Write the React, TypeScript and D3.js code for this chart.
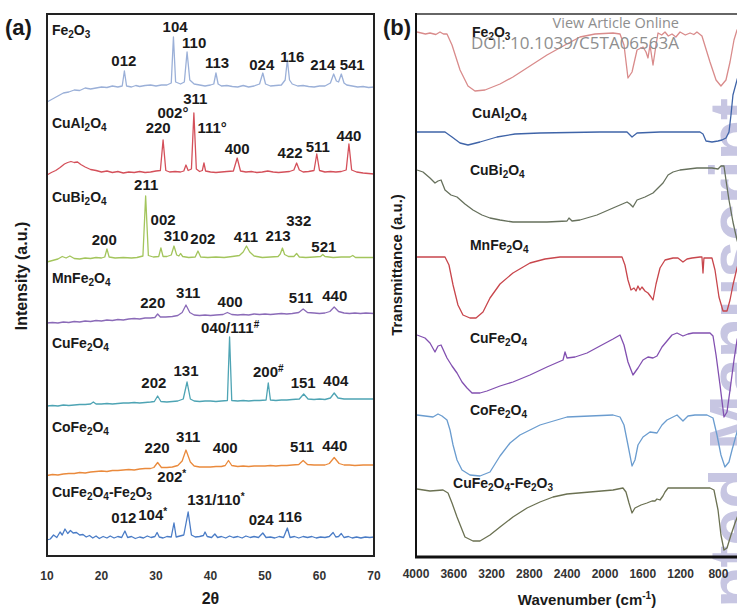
import React from 'react';
import * as d3 from 'd3';

const W = 737;
const H = 608;
const FONT = "'Liberation Sans', Arial, Helvetica, sans-serif";

// ---------- Panel (a): XRD ----------
const xrdTicks = [10, 20, 30, 40, 50, 60, 70];
const xrdNames = ['Fe2O3', 'CuAl2O4', 'CuBi2O4', 'MnFe2O4', 'CuFe2O4', 'CoFe2O4', 'CuFe2O4-Fe2O3'];
const xrdColors = ['#9bb0d8', '#d4505a', '#a3c55c', '#8b6bb8', '#4ea4b4', '#ea8a3c', '#4a7cc6'];

const xrdFe2O3: [number, number][] = [
  [10, 91.0], [11, 91.6], [12, 92.2], [13, 92.8], [14, 93.0], [15, 93.4], [16, 93.3], [17, 93.8], [18, 93.6], [19, 93.8],
  [20, 94.0], [21, 93.9], [22, 94.2], [23, 94.0], [23.8, 94.2], [24.2, 97.2], [24.6, 94.2], [25.5, 94.0], [26.3, 94.3], [27, 94.1],
  [28, 94.3], [29, 94.4], [30, 94.2], [31, 94.4], [32, 94.4], [32.8, 94.8], [33.2, 104.0], [33.6, 95.0], [34.5, 94.6], [35.2, 95.0],
  [35.7, 101.0], [36.2, 95.4], [37, 94.6], [38, 94.4], [39, 94.2], [40, 94.4], [40.6, 94.6], [41.0, 96.8], [41.4, 94.6], [42, 94.2],
  [43, 94.3], [44, 94.1], [45, 94.0], [46, 94.3], [47, 94.0], [48, 94.2], [49, 94.6], [49.6, 96.8], [50.1, 94.6], [51, 94.2],
  [52, 94.3], [53, 94.4], [53.7, 95.4], [54.1, 99.4], [54.5, 95.4], [55, 94.6], [56, 94.2], [57, 94.3], [58, 94.1], [59, 94.0],
  [60, 94.2], [61, 94.2], [62, 94.8], [62.6, 96.6], [63.1, 95.2], [63.5, 95.0], [64.0, 96.6], [64.5, 94.8], [65, 94.4], [66, 94.2],
  [67, 94.0], [68, 94.1], [69, 93.9], [70, 94.0],
];
const xrdCuAl2O4: [number, number][] = [
  [10, 76.4], [10.8, 76.9], [11.6, 77.3], [12.4, 77.9], [13.2, 78.6], [13.8, 78.9], [14.4, 79.1], [15, 78.9], [15.6, 79.0], [16.2, 78.5],
  [17, 78.0], [18, 77.5], [19, 77.3], [20, 77.0], [21, 77.2], [22, 76.9], [23, 77.1], [24, 76.8], [25, 77.0], [26, 76.9],
  [27, 77.1], [28, 76.9], [29, 77.0], [30, 77.2], [30.8, 77.3], [31.3, 83.4], [31.8, 77.3], [32.5, 77.0], [33.5, 77.1], [34.5, 77.0],
  [35.1, 77.2], [35.5, 78.4], [35.9, 77.3], [36.5, 77.6], [36.95, 88.8], [37.4, 77.6], [38, 77.1], [38.5, 77.3], [38.8, 78.8], [39.1, 77.2],
  [40, 77.0], [41, 76.9], [42, 77.0], [43, 77.1], [44.2, 77.2], [44.9, 79.8], [45.5, 77.2], [46.5, 77.0], [47.5, 77.1], [48.5, 76.9],
  [49.5, 77.0], [50.5, 77.2], [51.5, 77.0], [52.5, 76.9], [53.5, 77.0], [54.5, 77.1], [55.3, 77.4], [55.8, 78.8], [56.3, 77.4], [57, 77.0],
  [58, 77.1], [59, 77.3], [59.5, 80.6], [60, 77.3], [61, 77.0], [62, 77.1], [63, 77.0], [64, 77.1], [64.9, 77.4], [65.4, 82.6],
  [65.9, 77.4], [66.8, 77.0], [68, 76.8], [69, 76.7], [70, 76.6],
];
const xrdCuBi2O4: [number, number][] = [
  [10, 59.0], [11, 59.3], [12, 59.6], [12.8, 60.1], [13.5, 59.8], [14.2, 60.2], [15, 59.7], [16, 59.6], [17, 59.8], [18, 59.7],
  [19, 59.9], [20, 59.8], [20.6, 60.0], [21.0, 61.6], [21.4, 60.0], [22.5, 59.8], [24, 59.9], [25.5, 59.8], [26.5, 59.9], [27.6, 60.2],
  [28.1, 72.2], [28.6, 60.3], [29.5, 60.0], [30.5, 60.1], [30.9, 61.8], [31.3, 60.1], [32, 60.1], [32.8, 60.4], [33.3, 62.2], [33.8, 60.4],
  [34.2, 60.2], [34.5, 60.7], [34.9, 60.1], [36, 59.9], [37.2, 60.0], [37.7, 61.2], [38.2, 60.0], [39.5, 59.9], [41, 60.0], [42.5, 59.9],
  [44, 60.1], [45.3, 60.3], [46, 61.0], [46.6, 62.2], [47.2, 61.0], [48, 60.2], [49.5, 59.9], [51, 60.0], [52.4, 60.1], [52.8, 60.6],
  [53.2, 61.8], [53.6, 60.5], [54.3, 60.1], [55.3, 60.1], [55.8, 60.7], [56.3, 60.0], [57.5, 59.9], [59, 60.0], [60.2, 60.1], [60.6, 60.5],
  [61, 60.1], [62.5, 59.9], [64, 60.0], [65.6, 60.0], [66.1, 60.3], [66.6, 59.9], [68, 59.9], [70, 59.9],
];
const xrdMnFe2O4: [number, number][] = [
  [10, 46.8], [11, 46.9], [12, 46.8], [13, 47.0], [14, 46.9], [15, 47.1], [16, 47.0], [17, 47.2], [18, 47.1], [19, 47.3],
  [20, 47.2], [21, 47.4], [22, 47.3], [23, 47.5], [24, 47.4], [25, 47.6], [26, 47.7], [27, 47.6], [28, 47.8], [29, 47.8],
  [29.8, 47.9], [30.3, 48.6], [30.8, 48.0], [31.8, 48.0], [33, 48.1], [34, 48.3], [34.8, 48.9], [35.5, 50.4], [36.2, 48.9], [37, 48.4],
  [38, 48.3], [39, 48.4], [40, 48.3], [41, 48.4], [42.3, 48.5], [43.1, 48.9], [43.9, 48.5], [45, 48.4], [46, 48.5], [47, 48.4],
  [48, 48.6], [49, 48.5], [50, 48.6], [51, 48.5], [52, 48.6], [53, 48.7], [54, 48.6], [55, 48.7], [56.2, 48.9], [57, 49.6],
  [57.8, 48.9], [59, 48.8], [60, 48.7], [61, 48.8], [61.9, 49.1], [62.7, 50.0], [63.5, 49.1], [64.5, 48.8], [65.5, 48.7], [66.5, 48.8],
  [67.5, 48.7], [68.5, 48.8], [70, 48.7],
];
const xrdCuFe2O4: [number, number][] = [
  [10, 30.2], [11, 30.3], [12, 30.2], [13, 30.4], [14, 30.3], [15, 30.4], [16, 30.5], [17, 30.5], [18, 30.6], [18.5, 31.0],
  [19, 30.6], [20, 30.6], [21, 30.7], [22, 30.6], [23, 30.7], [24, 30.8], [25, 30.8], [26, 30.9], [27, 30.8], [28, 30.9],
  [29, 31.0], [29.7, 31.1], [30.3, 32.2], [30.9, 31.1], [32, 31.0], [33, 31.1], [34, 31.2], [35, 31.6], [35.7, 35.0], [36.3, 31.6],
  [37, 31.2], [38, 31.1], [39, 31.2], [40, 31.2], [41, 31.1], [42, 31.2], [43.1, 31.3], [43.5, 44.0], [43.9, 31.3], [45, 31.2],
  [46, 31.3], [47, 31.2], [48, 31.3], [49, 31.3], [50.2, 31.4], [50.6, 34.8], [51.0, 31.4], [52, 31.3], [53, 31.4], [54, 31.4],
  [55, 31.5], [56.3, 31.6], [57.1, 32.6], [57.9, 31.6], [59, 31.5], [60, 31.6], [61, 31.5], [62, 31.8], [62.7, 32.8], [63.4, 31.8],
  [64.5, 31.6], [65.5, 31.6], [67, 31.6], [68.5, 31.6], [70, 31.6],
];
const xrdCoFe2O4: [number, number][] = [
  [10, 16.3], [11, 16.5], [12, 16.4], [13, 16.6], [14, 16.7], [15, 16.7], [16, 16.9], [17, 16.8], [18, 17.0], [19, 17.1],
  [20, 17.2], [21, 17.1], [22, 17.3], [23, 17.3], [24, 17.4], [25, 17.5], [26, 17.4], [27, 17.6], [28, 17.7], [29, 17.7],
  [29.6, 17.9], [30.3, 18.9], [31, 17.9], [32, 17.9], [33, 18.0], [34, 18.3], [34.8, 19.2], [35.5, 21.4], [36.3, 19.0], [37, 18.2],
  [38, 18.0], [39, 18.0], [40, 18.0], [41, 18.1], [42, 18.1], [42.7, 18.3], [43.3, 19.3], [43.9, 18.3], [45, 18.1], [46, 18.2],
  [47, 18.1], [48, 18.2], [49, 18.2], [50, 18.2], [51, 18.3], [52, 18.2], [53, 18.3], [54, 18.3], [55, 18.4], [56.2, 18.5],
  [57, 19.3], [57.8, 18.5], [59, 18.4], [60, 18.4], [61, 18.4], [61.8, 18.7], [62.7, 19.9], [63.6, 18.7], [64.5, 18.4], [65.5, 18.4],
  [66.5, 18.3], [68, 18.4], [70, 18.4],
];
const xrdComposite: [number, number][] = [
  [10, 3.4], [10.6, 3.6], [11.2, 4.4], [11.8, 3.9], [12.4, 5.0], [12.8, 4.4], [13.3, 5.6], [13.8, 4.7], [14.3, 5.3], [14.8, 4.8],
  [15.4, 4.9], [16, 4.4], [16.6, 4.5], [17.2, 4.0], [17.8, 4.3], [18.4, 3.8], [19, 4.2], [19.6, 3.7], [20.3, 4.1], [21, 3.8],
  [21.6, 4.2], [22.3, 3.8], [23, 4.1], [23.7, 3.9], [24.3, 5.2], [24.8, 3.9], [25.5, 4.1], [26.2, 3.7], [27, 4.0], [27.7, 3.8],
  [28.4, 4.2], [29.1, 3.9], [29.8, 4.1], [30.2, 4.9], [30.6, 4.0], [31.3, 3.8], [32, 4.1], [32.8, 4.0], [33.3, 6.8], [33.7, 4.0],
  [34.4, 4.2], [35.1, 4.4], [35.9, 9.0], [36.5, 4.4], [37.2, 4.0], [38, 4.1], [38.7, 4.3], [39, 5.0], [39.4, 4.1], [40.2, 3.9],
  [40.8, 4.6], [41.3, 3.9], [42, 4.1], [42.8, 3.8], [43.5, 4.2], [44.2, 3.9], [45, 4.1], [45.8, 3.8], [46.5, 4.2], [47.3, 3.9],
  [48, 4.1], [48.8, 3.9], [49.6, 4.8], [50.2, 3.9], [51, 4.0], [51.8, 3.8], [52.6, 4.1], [53.4, 3.9], [54.1, 5.8], [54.6, 3.9],
  [55.4, 4.1], [56.2, 3.8], [57, 4.1], [57.8, 3.9], [58.6, 4.1], [59.4, 3.8], [60.2, 4.0], [61, 3.9], [61.8, 4.1], [62.5, 4.9],
  [63.0, 4.0], [63.5, 4.1], [64.0, 4.7], [64.5, 3.9], [65.3, 4.1], [66, 3.8], [66.8, 4.0], [67.6, 3.8], [68.4, 4.0], [69.2, 3.9],
  [70, 4.0],
];
const xrdSeries = [xrdFe2O3, xrdCuAl2O4, xrdCuBi2O4, xrdMnFe2O4, xrdCuFe2O4, xrdCoFe2O4, xrdComposite];

// sample name anchors (2θ, intensity)
const xrdNamePos: [number, number][] = [
  [10.9, 104.4], [10.9, 85.8], [10.9, 71.0], [10.9, 54.8], [10.9, 41.8], [10.9, 25.0], [10.9, 12.0],
];

// peak index labels: [text, 2θ, intensity]
const xrdPeakLabels: [string, number, number][] = [
  ['104', 33.5, 105.0], ['110', 37.0, 101.8], ['012', 24.1, 98.2], ['113', 41.2, 97.8], ['024', 49.4, 97.4],
  ['116', 55.0, 99.0], ['214', 60.6, 97.4], ['541', 66.0, 97.4],
  ['311', 37.2, 90.6], ['002°', 33.1, 87.8], ['220', 30.4, 84.8], ['111°', 40.3, 84.8], ['400', 44.9, 80.6],
  ['422', 54.6, 79.8], ['511', 59.7, 81.0], ['440', 65.4, 83.2],
  ['211', 28.2, 73.4], ['002', 31.3, 66.4], ['310', 33.7, 63.2], ['202', 38.6, 62.6], ['200', 20.5, 62.4],
  ['411', 46.5, 63.0], ['213', 52.4, 63.2], ['332', 56.2, 66.2], ['521', 60.8, 61.0],
  ['220', 29.4, 49.8], ['311', 35.9, 51.8], ['400', 43.6, 50.0], ['511', 56.6, 50.8], ['440', 62.8, 51.2],
  ['040/111#', 43.6, 44.8], ['131', 35.5, 36.2], ['202', 29.6, 33.8], ['200#', 50.6, 36.0], ['151', 57.0, 33.8], ['404', 63.0, 34.2],
  ['311', 35.9, 23.0], ['220', 30.2, 20.8], ['400', 42.7, 20.8], ['511', 56.8, 21.0], ['440', 62.8, 21.2],
  ['202*', 32.9, 15.0], ['131/110*', 41.0, 10.4], ['012', 24.1, 6.8], ['104*', 29.4, 7.4], ['024', 49.3, 6.4], ['116', 54.6, 7.0],
];

// ---------- Panel (b): FTIR ----------
const ftirTicks = [4000, 3600, 3200, 2800, 2400, 2000, 1600, 1200, 800, 400];
const ftirColors = ['#d98b8b', '#3f64a8', '#66705c', '#c8464c', '#8250b0', '#6a9ccf', '#6b7152'];

const ftirFe2O3: [number, number][] = [
  [3989, 105.0], [3900, 104.6], [3852, 104.8], [3790, 104.5], [3746, 105.0], [3710, 104.6], [3672, 104.6], [3619, 102.4],
  [3534, 97.4], [3450, 94.2], [3376, 93.2], [3270, 93.4], [3111, 94.6], [2974, 96.0], [2794, 98.2], [2614, 100.4],
  [2423, 102.4], [2265, 104.0], [2106, 104.6], [1915, 104.8], [1841, 104.6], [1799, 102.4], [1757, 95.8], [1714, 97.0],
  [1661, 101.4], [1598, 102.0], [1566, 101.0], [1545, 99.8], [1524, 102.4], [1492, 98.4], [1460, 102.4], [1439, 104.8],
  [1400, 104.4], [1365, 105.0], [1330, 104.2], [1291, 104.6], [1250, 104.0], [1206, 105.0], [1150, 104.4], [1100, 104.8],
  [1060, 104.5], [1027, 105.0], [974, 104.2], [889, 99.0], [825, 95.4], [773, 94.2], [720, 95.4], [677, 99.0],
  [635, 103.4], [603, 105.4], [519, 105.8],
];
const ftirCuAl2O4: [number, number][] = [
  [3989, 85.0], [3693, 85.0], [3619, 84.0], [3534, 82.8], [3450, 82.4], [3323, 83.0], [3143, 84.0], [2952, 84.6],
  [2688, 84.8], [2053, 85.0], [1767, 85.0], [1714, 84.0], [1661, 84.8], [1418, 85.0], [995, 85.0], [963, 84.6],
  [931, 83.2], [868, 83.0], [804, 83.2], [762, 83.4], [720, 83.8], [688, 85.0], [667, 88.4], [646, 92.4],
  [603, 95.4], [572, 97.4],
];
const ftirCuBi2O4: [number, number][] = [
  [3989, 77.4], [3926, 77.0], [3852, 75.8], [3799, 74.8], [3767, 75.2], [3735, 75.4], [3693, 73.4], [3630, 72.4],
  [3566, 72.0], [3482, 70.6], [3397, 69.4], [3302, 68.4], [3217, 67.8], [3111, 67.4], [2974, 67.0], [2614, 67.0],
  [2402, 67.2], [2381, 67.8], [2349, 67.2], [2265, 67.4], [2085, 68.4], [1915, 69.8], [1767, 71.0], [1736, 70.6],
  [1704, 70.0], [1661, 71.4], [1577, 72.0], [1492, 72.8], [1439, 73.8], [1386, 74.8], [1333, 76.4], [1280, 77.0],
  [1206, 77.4], [1027, 77.8], [868, 77.8], [804, 77.6], [773, 78.2], [741, 78.2], [720, 75.4], [688, 71.4],
  [646, 67.0], [603, 63.4], [572, 61.4],
];
const ftirMnFe2O4: [number, number][] = [
  [3989, 60.0], [3693, 60.0], [3651, 58.4], [3608, 54.4], [3556, 50.4], [3503, 48.4], [3429, 47.8], [3365, 47.8],
  [3291, 49.0], [3217, 51.8], [3111, 54.6], [2974, 56.8], [2794, 58.8], [2635, 59.6], [2476, 60.0], [1820, 60.0],
  [1789, 58.4], [1757, 55.4], [1725, 53.4], [1693, 53.8], [1672, 53.2], [1651, 54.2], [1630, 53.4], [1609, 54.0],
  [1577, 53.2], [1545, 52.8], [1513, 52.0], [1492, 51.4], [1460, 54.6], [1418, 57.8], [1365, 59.4], [1280, 59.8],
  [1228, 59.8], [1175, 59.0], [1132, 59.6], [1079, 59.8], [995, 60.0], [974, 60.0], [963, 56.8], [953, 59.8],
  [868, 59.8], [836, 57.4], [794, 52.0], [751, 49.2], [709, 49.2], [677, 51.4], [646, 54.4], [603, 57.8],
  [572, 59.8],
];
const ftirCuFe2O4: [number, number][] = [
  [3989, 44.4], [3905, 43.8], [3852, 42.8], [3799, 41.0], [3767, 42.2], [3735, 42.4], [3672, 39.8], [3619, 38.2],
  [3566, 36.8], [3513, 35.0], [3460, 33.8], [3407, 32.8], [3323, 32.8], [3249, 33.2], [3111, 34.2], [2974, 35.0],
  [2794, 36.4], [2614, 38.0], [2444, 39.4], [2423, 41.0], [2402, 39.8], [2317, 40.0], [2190, 40.8], [2053, 42.2],
  [1915, 43.6], [1841, 44.4], [1799, 42.4], [1757, 39.0], [1704, 36.4], [1651, 37.8], [1598, 39.4], [1545, 40.0],
  [1492, 39.8], [1450, 40.2], [1397, 42.0], [1344, 43.2], [1291, 44.4], [1238, 44.8], [1175, 44.2], [1122, 44.6],
  [1069, 44.8], [889, 44.8], [857, 44.2], [825, 40.4], [783, 34.4], [741, 28.0], [709, 29.0], [677, 33.4],
  [635, 39.4], [603, 43.4], [572, 45.4],
];
const ftirCoFe2O4: [number, number][] = [
  [3989, 28.4], [3905, 28.2], [3820, 28.0], [3767, 28.6], [3725, 28.2], [3672, 27.4], [3640, 25.4], [3608, 22.4],
  [3566, 19.4], [3513, 17.4], [3429, 16.4], [3323, 16.2], [3217, 17.0], [3111, 20.2], [3005, 22.8], [2900, 24.4],
  [2688, 26.4], [2402, 28.0], [2159, 28.2], [1915, 28.4], [1841, 28.0], [1799, 26.4], [1757, 22.4], [1714, 18.2],
  [1683, 19.4], [1651, 22.4], [1598, 24.0], [1524, 25.0], [1450, 24.8], [1397, 26.4], [1344, 27.4], [1238, 28.4],
  [1175, 27.2], [1122, 28.2], [1048, 28.4], [921, 28.4], [857, 27.8], [815, 24.4], [773, 20.4], [731, 18.0],
  [688, 19.0], [656, 21.4], [603, 25.0], [572, 27.4],
];
const ftirComposite: [number, number][] = [
  [3989, 13.6], [3852, 13.2], [3714, 13.4], [3661, 12.8], [3619, 10.8], [3566, 8.0], [3482, 4.0], [3397, 3.2],
  [3323, 3.2], [3217, 4.4], [3111, 6.0], [2974, 8.0], [2825, 9.8], [2688, 11.0], [2550, 12.0], [2402, 12.6],
  [2159, 13.0], [1915, 13.4], [1810, 13.8], [1778, 13.0], [1746, 10.8], [1714, 8.8], [1683, 9.8], [1619, 10.4],
  [1556, 10.8], [1503, 11.2], [1471, 11.2], [1450, 11.6], [1418, 11.4], [1387, 12.2], [1365, 13.0], [1333, 13.8],
  [1259, 13.8], [889, 13.8], [847, 13.4], [804, 9.4], [773, 4.4], [741, 1.4], [709, 1.8], [667, 4.4],
  [624, 6.8], [572, 9.4],
];
const ftirSeries = [ftirFe2O3, ftirCuAl2O4, ftirCuBi2O4, ftirMnFe2O4, ftirCuFe2O4, ftirCoFe2O4, ftirComposite];

const ftirNamePos: [number, number][] = [
  [3407, 104.0], [3407, 87.8], [3429, 76.4], [3429, 61.4], [3429, 42.8], [3429, 28.4], [3608, 13.8],
];

// ---------- helpers ----------
function Formula({ x, y, text, size }: { x: number; y: number; text: string; size: number }) {
  const parts = text.match(/\d+|[^\d]+/g) || [];
  let shift = 0;
  const sub = Math.round(size * 0.7);
  return (
    <text x={x} y={y} fontFamily={FONT} fontWeight="bold" fontSize={size} fill="#1a1a1a">
      {parts.map((p, i) => {
        const isNum = /^\d+$/.test(p);
        const target = isNum ? 3 : 0;
        const dy = target - shift;
        shift = target;
        return (
          <tspan key={i} dy={dy} fontSize={isNum ? sub : size}>
            {p}
          </tspan>
        );
      })}
    </text>
  );
}

function PeakLabel({ x, y, text }: { x: number; y: number; text: string }) {
  const m = text.match(/^(.*?)([#*]?)$/);
  const main = m ? m[1] : text;
  const sup = m ? m[2] : '';
  return (
    <text x={x} y={y} textAnchor="middle" fontFamily={FONT} fontWeight="bold" fontSize={15} fill="#1a1a1a">
      <tspan>{main}</tspan>
      {sup ? (
        <tspan dy={-5} fontSize={10}>
          {sup}
        </tspan>
      ) : null}
    </text>
  );
}

export default function App() {
  const yScale = d3.scaleLinear().domain([0, 108.6]).range([557, 14]);
  const xA = d3.scaleLinear().domain([10, 70]).range([47, 374]);
  const xB = d3.scaleLinear().domain([4000, 400]).range([416, 756.2]);

  const lineA = d3
    .line<[number, number]>()
    .x((d) => xA(d[0]))
    .y((d) => yScale(d[1]));
  const lineB = d3
    .line<[number, number]>()
    .x((d) => xB(d[0]))
    .y((d) => yScale(d[1]))
    .curve(d3.curveMonotoneX.constructor ? d3.curveLinear : d3.curveLinear);

  return (
    <div style={{ position: 'fixed', left: 0, top: 0, width: W, height: H, background: '#fff' }}>
      <svg width={W} height={H} viewBox={`0 0 ${W} ${H}`} style={{ display: 'block' }}>
        <rect x={0} y={0} width={W} height={H} fill="#fff" />

        {/* watermark */}
        <text
          transform="translate(756,98) rotate(-90)"
          textAnchor="end"
          fontFamily={FONT}
          fontWeight="bold"
          fontSize={66}
          fill="#c7c6e2"
        >
          Accepted Manuscript
        </text>

        {/* ---------- panel (a) ---------- */}
        <text x={5} y={35} fontFamily={FONT} fontWeight="bold" fontSize={22} fill="#1a1a1a">
          (a)
        </text>
        {xrdSeries.map((s, i) => (
          <path key={i} d={lineA(s) || ''} fill="none" stroke={xrdColors[i]} strokeWidth={1.3} strokeLinejoin="round" />
        ))}
        <rect x={47} y={14} width={327} height={542} fill="none" stroke="#222" strokeWidth={2} />
        {xrdNames.map((n, i) => (
          <Formula key={n} x={xA(xrdNamePos[i][0])} y={yScale(xrdNamePos[i][1])} text={n} size={14} />
        ))}
        {xrdPeakLabels.map((p, i) => (
          <PeakLabel key={i} x={xA(p[1])} y={yScale(p[2])} text={p[0]} />
        ))}
        {xrdTicks.map((t) => (
          <text key={t} x={xA(t)} y={580} textAnchor="middle" fontFamily={FONT} fontWeight="bold" fontSize={12} fill="#333">
            {t}
          </text>
        ))}
        <text x={xA(40)} y={604} textAnchor="middle" fontFamily={FONT} fontWeight="bold" fontSize={16} fill="#1a1a1a">
          2θ
        </text>
        <text
          transform="translate(27,276) rotate(-90)"
          textAnchor="middle"
          fontFamily={FONT}
          fontWeight="bold"
          fontSize={16}
          fill="#1a1a1a"
        >
          Intensity (a.u.)
        </text>

        {/* ---------- panel (b) ---------- */}
        <text x={383} y={35} fontFamily={FONT} fontWeight="bold" fontSize={22} fill="#1a1a1a">
          (b)
        </text>
        {ftirSeries.map((s, i) => (
          <path key={i} d={lineB(s) || ''} fill="none" stroke={ftirColors[i]} strokeWidth={1.3} strokeLinejoin="round" />
        ))}
        <line x1={416} y1={14} x2={760} y2={14} stroke="#333" strokeWidth={1.5} />
        <line x1={416} y1={13} x2={416} y2={558} stroke="#111" strokeWidth={2} />
        <line x1={415} y1={557} x2={760} y2={557} stroke="#111" strokeWidth={3} />
        {xrdNames.map((n, i) => (
          <Formula key={n} x={xB(ftirNamePos[i][0])} y={yScale(ftirNamePos[i][1])} text={n} size={14} />
        ))}
        {ftirTicks.map((t) => (
          <text key={t} x={xB(t)} y={578} textAnchor="middle" fontFamily={FONT} fontWeight="bold" fontSize={12} fill="#333">
            {t}
          </text>
        ))}
        <text x={587} y={605} textAnchor="middle" fontFamily={FONT} fontWeight="bold" fontSize={15} fill="#1a1a1a">
          Wavenumber (cm
          <tspan dy={-6} fontSize={10}>
            -1
          </tspan>
          <tspan dy={6}>)</tspan>
        </text>
        <text
          transform="translate(402,265) rotate(-90)"
          textAnchor="middle"
          fontFamily={FONT}
          fontWeight="bold"
          fontSize={15}
          fill="#1a1a1a"
        >
          Transmittance (a.u.)
        </text>

        {/* header overlay */}
        <text x={679} y={28} textAnchor="end" fontFamily="'Open Sans', sans-serif" fontSize={14.5} fill="#8e8e8e">
          View Article Online
        </text>
        <text x={679} y={49} textAnchor="end" fontFamily="'Open Sans', sans-serif" fontSize={17} fill="#8e8e8e">
          DOI: 10.1039/C5TA06563A
        </text>
      </svg>
    </div>
  );
}
